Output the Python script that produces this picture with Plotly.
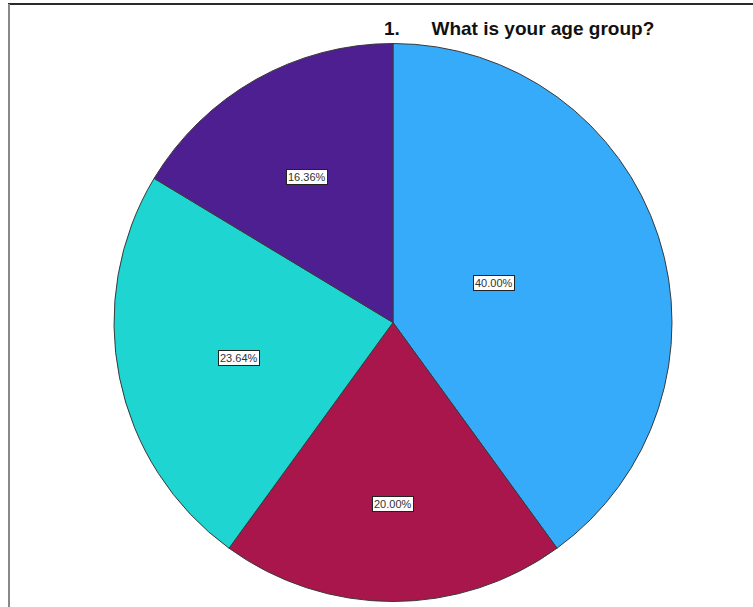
import math
import plotly.graph_objects as go

# ---- data ----
categories = ["Group A", "Group B", "Group C", "Group D"]
percentages = [40.00, 20.00, 23.64, 16.36]
label_texts = ["40.00%", "20.00%", "23.64%", "16.36%"]
title_text = "1.&nbsp;&nbsp;&nbsp;&nbsp;&nbsp;&nbsp;What is your age group?"

# ---- style ----
colors = ["#36ABFA", "#A8164C", "#1ED5D2", "#4E1F91"]
label_radius_frac = [0.46, 0.68, 0.64, 0.63]

W, H = 753, 607
cx, cy, R = 393, 322.5, 279

fig = go.Figure()
fig.add_trace(go.Pie(
    labels=categories,
    values=percentages,
    sort=False,
    direction="clockwise",
    rotation=0,
    marker=dict(colors=colors, line=dict(color="#3a3a3a", width=1)),
    textinfo="none",
    hoverinfo="label+percent",
    showlegend=False,
    domain=dict(x=[(cx - R) / W, (cx + R) / W],
                y=[(H - cy - R) / H, (H - cy + R) / H]),
))

# label boxes at slice mid-angles, derived from the data
total = sum(percentages)
cum = 0.0
for val, txt, frac in zip(percentages, label_texts, label_radius_frac):
    mid = (cum + val / 2) / total * 2 * math.pi
    cum += val
    px = cx + frac * R * math.sin(mid)
    py = cy - frac * R * math.cos(mid)
    fig.add_annotation(
        x=px / W, y=1 - py / H, xref="paper", yref="paper",
        text=txt, showarrow=False,
        font=dict(family="Liberation Sans, Arial", size=11, color="#333"),
        bgcolor="white", bordercolor="#222", borderwidth=1, borderpad=1,
    )

fig.add_annotation(
    x=382 / W, y=1 - 29 / H, xref="paper", yref="paper",
    xanchor="left", yanchor="middle", showarrow=False,
    text="<b>" + title_text + "</b>",
    font=dict(family="Liberation Sans, Arial", size=19, color="#111"),
)

# frame lines
fig.add_shape(type="line", xref="paper", yref="paper",
              x0=8 / W, x1=1, y0=1 - 4 / H, y1=1 - 4 / H,
              line=dict(color="#2a2a2a", width=2))
fig.add_shape(type="line", xref="paper", yref="paper",
              x0=9 / W, x1=9 / W, y0=0, y1=1 - 4 / H,
              line=dict(color="#888", width=2))

fig.update_layout(
    width=W, height=H,
    margin=dict(l=0, r=0, t=0, b=0),
    paper_bgcolor="white", plot_bgcolor="white",
)

fig.write_html("out.html")
